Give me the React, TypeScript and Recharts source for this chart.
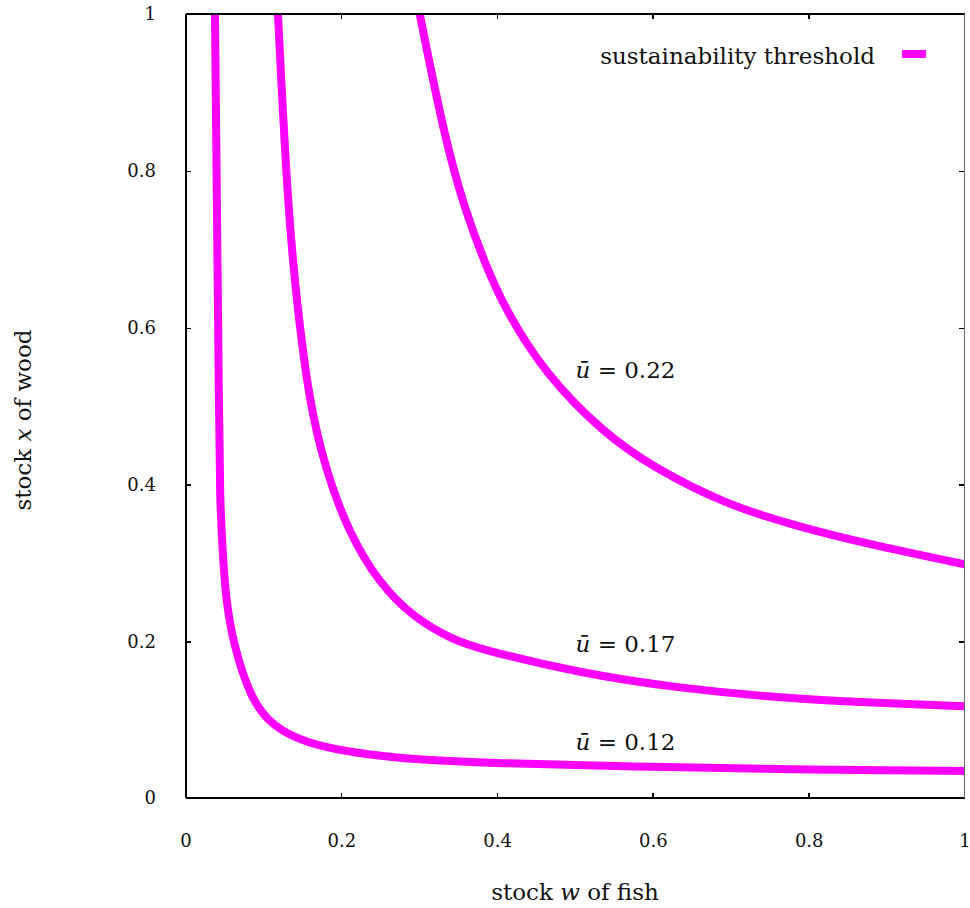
import { LineChart, Line, XAxis, YAxis, ReferenceDot, Legend } from 'recharts';

// stock w of fish (x axis) / stock x of wood (y axis)
const fishU12 = [0.0372, 0.0398, 0.0424, 0.0436, 0.0469, 0.0513, 0.0603, 0.0834, 0.112, 0.154, 0.214, 0.299, 0.385, 0.6, 0.8, 1.0];
const woodU12 = [1.0, 0.745, 0.49, 0.38, 0.316, 0.253, 0.198, 0.125, 0.0906, 0.0702, 0.0574, 0.0485, 0.0446, 0.0395, 0.036, 0.0345];

const fishU17 = [0.118, 0.131, 0.144, 0.158, 0.178, 0.209, 0.248, 0.291, 0.343, 0.377, 0.506, 0.634, 0.763, 0.891, 1.0];
const woodU17 = [1.0, 0.745, 0.617, 0.508, 0.422, 0.338, 0.274, 0.231, 0.2015, 0.19, 0.159, 0.14, 0.1276, 0.121, 0.117];

const fishU22 = [0.3, 0.332, 0.358, 0.385, 0.409, 0.46, 0.538, 0.598, 0.691, 0.783, 0.875, 1.0];
const woodU22 = [1.0, 0.842, 0.75, 0.679, 0.625, 0.542, 0.464, 0.423, 0.375, 0.347, 0.324, 0.298];

const ticks = [0, 0.2, 0.4, 0.6, 0.8, 1];
const curveLabels = [
  { text: '0.22', w: 0.5, x: 0.536 },
  { text: '0.17', w: 0.5, x: 0.186 },
  { text: '0.12', w: 0.5, x: 0.061 },
];
const legendText = 'sustainability threshold';

const MAGENTA = '#ff00ff';
const FONT = '"DejaVu Serif", serif';

// plot box in page pixels (used for the gnuplot-like frame)
const BOX = { left: 186, top: 14, width: 779, height: 784 };

const toPoints = (ws: number[], xs: number[]) => ws.map((w, i) => ({ w, x: xs[i] }));

const fmtTick = (v: number) => (v === 0 || v === 1 ? String(v) : v.toFixed(1));

const tickStyle = { fontFamily: FONT, fontSize: 18, fill: '#111' };

const lineProps = {
  dataKey: 'x',
  type: 'basis' as const,
  stroke: MAGENTA,
  strokeWidth: 8,
  dot: false,
  activeDot: false,
  isAnimationActive: false,
};

// top/right border and the small inward ticks on all four sides
function FrameOverlay() {
  const inner = ticks.slice(1, -1);
  const mark = (key: string, style: React.CSSProperties) => (
    <div key={key} style={{ position: 'absolute', background: '#000', ...style }} />
  );
  return (
    <div
      style={{
        position: 'absolute',
        left: BOX.left,
        top: BOX.top - 1,
        width: BOX.width,
        height: BOX.height + 1,
        pointerEvents: 'none',
        zIndex: 5,
        borderTop: '2px solid #000',
        borderRight: '1px solid #666',
        boxSizing: 'border-box',
      }}
    >
      {inner.map((t) => mark(`t${t}`, { left: t * BOX.width - 1, top: 0, width: 1.5, height: 4 }))}
      {inner.map((t) => mark(`b${t}`, { left: t * BOX.width - 1, top: BOX.height - 6, width: 1.5, height: 4 }))}
      {inner.map((t) => mark(`l${t}`, { left: 0, top: (1 - t) * BOX.height - 1, width: 5, height: 1.5 }))}
      {inner.map((t) => mark(`r${t}`, { left: BOX.width - 6, top: (1 - t) * BOX.height - 1, width: 5, height: 1.5 }))}
    </div>
  );
}

export default function App() {
  return (
    <div style={{ position: 'absolute', left: 0, top: 0, width: 970, height: 908, background: '#fff' }}>
      <LineChart width={970} height={908} margin={{ top: 14, right: 5, left: 0, bottom: 0 }}>
        <XAxis
          dataKey="w"
          type="number"
          domain={[0, 1]}
          ticks={ticks}
          tickFormatter={fmtTick}
          height={110}
          tickLine={false}
          tickMargin={30}
          tick={tickStyle}
          axisLine={{ stroke: '#000', strokeWidth: 2 }}
          allowDataOverflow
          label={() => (
            <text x={575} y={900} textAnchor="middle" fontFamily={FONT} fontSize={23} fill="#111">
              stock <tspan fontStyle="italic">w</tspan> of fish
            </text>
          )}
        />
        <YAxis
          type="number"
          domain={[0, 1]}
          ticks={ticks}
          tickFormatter={fmtTick}
          width={186}
          tickLine={false}
          tickMargin={24}
          tick={tickStyle}
          axisLine={{ stroke: '#000', strokeWidth: 2 }}
          allowDataOverflow
          label={() => (
            <text
              x={25}
              y={420}
              textAnchor="middle"
              dominantBaseline="middle"
              transform="rotate(-90 25 420)"
              fontFamily={FONT}
              fontSize={23}
              fill="#111"
            >
              stock <tspan fontStyle="italic">x</tspan> of wood
            </text>
          )}
        />
        <Legend
          wrapperStyle={{ left: 0, top: 0, width: 970, height: 0 }}
          content={() => (
            <div style={{ position: 'absolute', left: 0, top: 0, width: 970, height: 0 }}>
              <span
                style={{
                  position: 'absolute',
                  right: 95,
                  top: 42,
                  fontFamily: FONT,
                  fontSize: 23,
                  lineHeight: '28px',
                  whiteSpace: 'nowrap',
                  color: '#111',
                }}
              >
                {legendText}
              </span>
              <span style={{ position: 'absolute', left: 902, top: 50, width: 24, height: 8, background: MAGENTA }} />
            </div>
          )}
        />
        <Line data={toPoints(fishU12, woodU12)} {...lineProps} />
        <Line data={toPoints(fishU17, woodU17)} {...lineProps} legendType="none" />
        <Line data={toPoints(fishU22, woodU22)} {...lineProps} legendType="none" />
        {curveLabels.map((c) => (
          <ReferenceDot
            key={c.text}
            x={c.w}
            y={c.x}
            r={0}
            shape={(p: any) => (
              <text x={p.cx} y={p.cy} fontFamily={FONT} fontSize={23} fill="#111">
                <tspan fontStyle="italic">{'u\u0304'}</tspan> = {c.text}
              </text>
            )}
          />
        ))}
      </LineChart>
      <FrameOverlay />
    </div>
  );
}
